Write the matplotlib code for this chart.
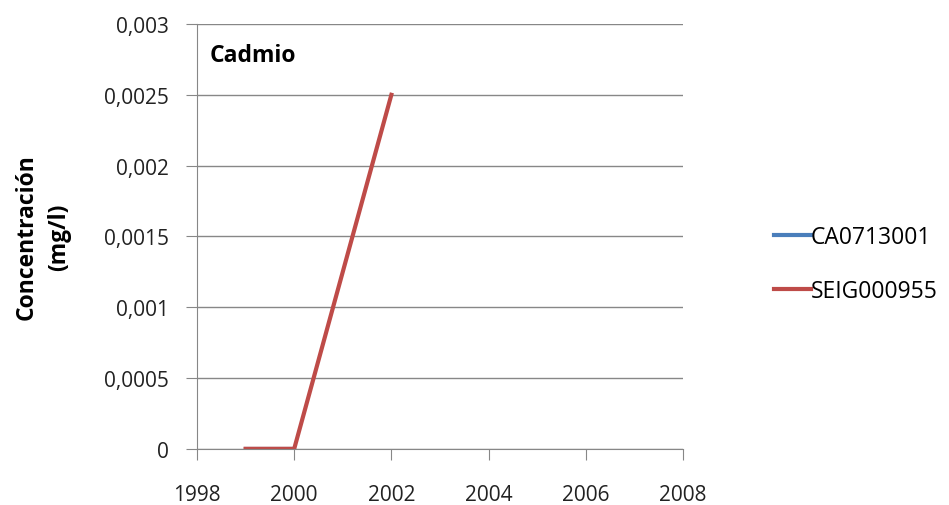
import matplotlib.pyplot as plt
from matplotlib.ticker import FuncFormatter

plt.rcParams['font.family'] = ['Open Sans', 'DejaVu Sans']

years_ca = [1999, 2000]
vals_ca = [0.0, 0.0]
years_seig = [1999, 2000, 2002]
vals_seig = [0.0, 0.0, 0.0025]

fig = plt.figure(figsize=(9.49, 5.06), dpi=100)
ax = fig.add_axes([0.2076, 0.111, 0.512, 0.8396])

ax.plot(years_ca, vals_ca, color='#4A7EBB', lw=3, label='CA0713001')
ax.plot(years_seig, vals_seig, color='#BE4B48', lw=3, label='SEIG000955')

ax.set_xlim(1998, 2008)
ax.set_ylim(0, 0.003)
ax.set_xticks(range(1998, 2009, 2))
ax.set_yticks([0, 0.0005, 0.001, 0.0015, 0.002, 0.0025, 0.003])
ax.yaxis.set_major_formatter(FuncFormatter(lambda v, p: ('%g' % v).replace('.', ',') if v else '0'))
ax.grid(axis='y', color='#878787', lw=1)
ax.set_axisbelow(True)
for s in ['top', 'right']:
    ax.spines[s].set_visible(False)
for s in ['left', 'bottom']:
    ax.spines[s].set_color('#878787')
ax.tick_params(colors='#878787', labelcolor='#222222', labelsize=15, length=8)
ax.tick_params(axis='y', pad=12)
ax.tick_params(axis='x', pad=17)

ax.text(0.025, 0.955, 'Cadmio', transform=ax.transAxes, fontsize=16.5,
        fontweight='bold', va='top', ha='left')
ax.set_ylabel('Concentración\n(mg/l)', fontsize=16.5, fontweight='bold',
              labelpad=24, linespacing=1.45)

ax.legend(loc='center left', bbox_to_anchor=(1.145, 0.435), frameon=False,
          fontsize=16.5, handlelength=1.6, handletextpad=0.0, labelspacing=1.3)

fig.savefig('out.png', dpi=100)
